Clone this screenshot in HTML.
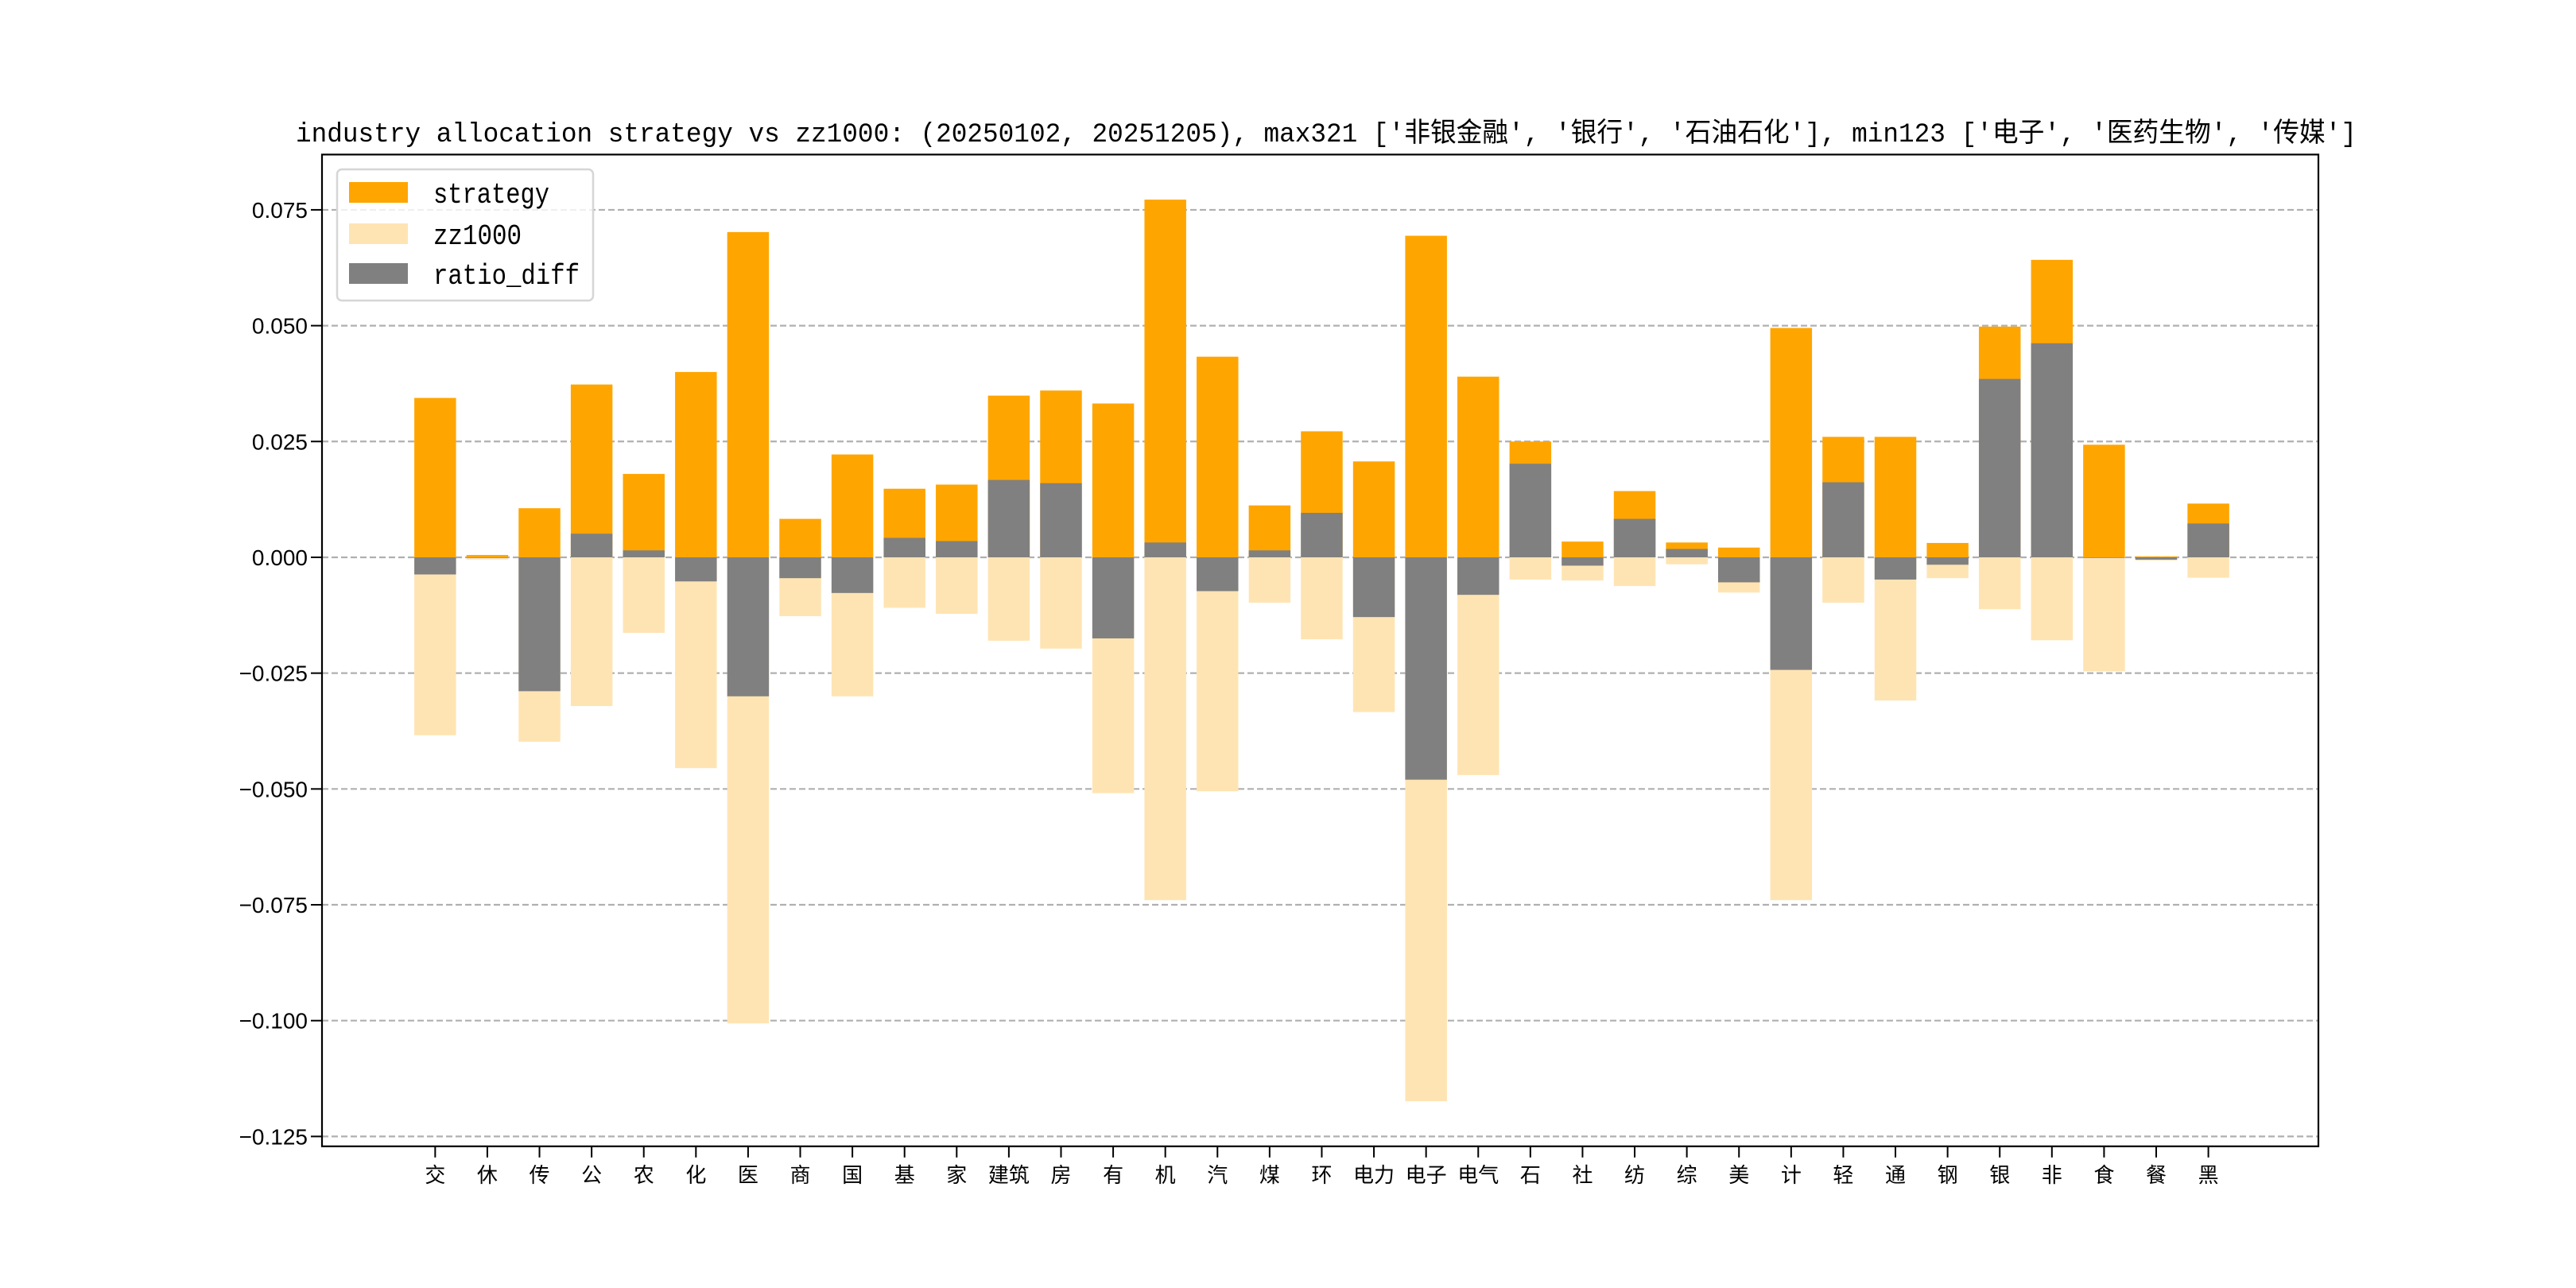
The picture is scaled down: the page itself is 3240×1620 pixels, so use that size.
<!DOCTYPE html>
<html><head><meta charset="utf-8"><style>
html,body{margin:0;padding:0;background:#fff;}
svg{display:block;}
text{font-family:"Liberation Sans","Noto Sans CJK SC",sans-serif;fill:#000;}
</style></head><body>
<svg id="chart" width="3240" height="1620" viewBox="0 0 3240 1620" xmlns="http://www.w3.org/2000/svg">
<rect width="3240" height="1620" fill="#fff"/>
<text x="1668" y="178" text-anchor="middle" font-size="34" textLength="2592" lengthAdjust="spacingAndGlyphs" style="font-family:'Liberation Mono','Noto Sans CJK SC',monospace">industry allocation strategy vs zz1000: (20250102, 20251205), max321 ['非银金融', '银行', '石油石化'], min123 ['电子', '医药生物', '传媒']</text>
<g id="grid"></g>
<g id="bars"></g>
<g id="yaxis"></g>
<g id="xaxis"></g>
<rect x="405" y="194.4" width="2511" height="1247.4" fill="none" stroke="#000" stroke-width="2.2"/>
<g>
<rect x="424" y="213" width="322" height="165" rx="6" fill="#fff" fill-opacity="0.8" stroke="#d6d6d6" stroke-width="2.5"/>
<rect x="439" y="229" width="74" height="26" fill="#FFA500"/>
<text x="545" y="255" font-size="36" textLength="146" lengthAdjust="spacingAndGlyphs" style="font-family:'Liberation Mono',monospace">strategy</text>
<rect x="439" y="281" width="74" height="26" fill="#FFE4B3"/>
<text x="545" y="307" font-size="36" textLength="111" lengthAdjust="spacingAndGlyphs" style="font-family:'Liberation Mono',monospace">zz1000</text>
<rect x="439" y="331" width="74" height="26" fill="#808080"/>
<text x="545" y="357" font-size="36" textLength="184" lengthAdjust="spacingAndGlyphs" style="font-family:'Liberation Mono',monospace">ratio_diff</text>
</g>
</svg>
<script>
const categories = ['交','休','传','公','农','化','医','商','国','基','家','建筑','房','有','机','汽','煤','环','电力','电子','电气','石','社','纺','综','美','计','轻','通','钢','银','非','食','餐','黑'];
const strategy = [0.0344,0.0005,0.0106,0.0373,0.018,0.040,0.0702,0.0083,0.0222,0.0148,0.0157,0.0349,0.036,0.0332,0.0772,0.0433,0.0112,0.0272,0.0207,0.0694,0.039,0.025,0.0034,0.0143,0.0032,0.0021,0.0495,0.026,0.026,0.0031,0.0498,0.0642,0.0243,0.0002,0.0116];
const zz1000 = [0.0384,0.0005,0.0398,0.0321,0.0163,0.0455,0.1006,0.0127,0.030,0.0109,0.0122,0.018,0.0197,0.0509,0.074,0.0505,0.0098,0.0177,0.0334,0.1174,0.047,0.0048,0.005,0.0062,0.0015,0.0076,0.074,0.0098,0.0309,0.0045,0.0112,0.0179,0.0246,0.0007,0.0044];
const ratioDiff = [-0.0037,0.0,-0.0289,0.0051,0.0015,-0.0052,-0.030,-0.0045,-0.0077,0.0042,0.0035,0.0167,0.016,-0.0175,0.0032,-0.0073,0.0015,0.0096,-0.0129,-0.048,-0.0081,0.0202,-0.0018,0.0083,0.0018,-0.0054,-0.0243,0.0162,-0.0048,-0.0016,0.0385,0.0462,0.0,-0.0005,0.0073];
const yTicks = [-0.125,-0.100,-0.075,-0.050,-0.025,0.000,0.025,0.050,0.075];
const yTickLabels = ['−0.125','−0.100','−0.075','−0.050','−0.025','0.000','0.025','0.050','0.075'];

const NS='http://www.w3.org/2000/svg';
const AX={l:405,r:2916,t:194.4,b:1441.8};
const n=categories.length;
const xmin=-0.4-0.05*(n-1+0.8)-0.03, xmax=(n-1)+0.4+0.05*(n-1+0.8)-0.03;
let dmax=Math.max(...strategy), dmin=Math.min(...zz1000.map(v=>-v), ...ratioDiff);
const span=dmax-dmin; const ymax=dmax+0.05*span, ymin=dmin-0.05*span;
function X(i){return AX.l+(i-xmin)/(xmax-xmin)*(AX.r-AX.l);}
function Y(v){return AX.t+(ymax-v)/(ymax-ymin)*(AX.b-AX.t);}
const bw=0.8*(AX.r-AX.l)/(xmax-xmin);
function mk(tag,attrs,parent){const e=document.createElementNS(NS,tag);for(const k in attrs)e.setAttribute(k,attrs[k]);parent.appendChild(e);return e;}

const grid=document.getElementById('grid');
const yaxis=document.getElementById('yaxis');
yTicks.forEach((t,i)=>{
  const y=Y(t);
  const g=mk('line',{x1:AX.l,x2:AX.r,y1:y,y2:y,stroke:'#b0b0b0','stroke-width':2.2,'stroke-dasharray':'8,4'},grid);
  
  
  const tk=mk('line',{x1:AX.l-14,x2:AX.l,y1:y,y2:y,stroke:'#000','stroke-width':2},yaxis);
  
  
  const tx=mk('text',{x:AX.l-18,y:y+10,'text-anchor':'end','font-size':28},yaxis);
  tx.textContent=yTickLabels[i];
  
  
});

const bars=document.getElementById('bars');
function bar(i,v,fill,name){
  const y1=Y(0),y2=Y(v);
  const r=mk('rect',{x:X(i)-bw/2,y:Math.min(y1,y2),width:bw,height:Math.max(Math.abs(y2-y1),0.8),fill:fill},bars);
  
  
}
const xaxis=document.getElementById('xaxis');
categories.forEach((c,i)=>{
  bar(i,strategy[i],'#FFA500','bar-strategy');
  bar(i,-zz1000[i],'#FFE4B3','bar-zz1000');
  bar(i,ratioDiff[i],'#808080','bar-ratio-diff');
  const x=X(i);
  const tk=mk('line',{x1:x,x2:x,y1:AX.b,y2:AX.b+14,stroke:'#000','stroke-width':2},xaxis);
  
  
  const tx=mk('text',{x:x,y:1487,'text-anchor':'middle','font-size':26},xaxis);
  tx.textContent=c;
  
  
});
</script>
</body></html>
